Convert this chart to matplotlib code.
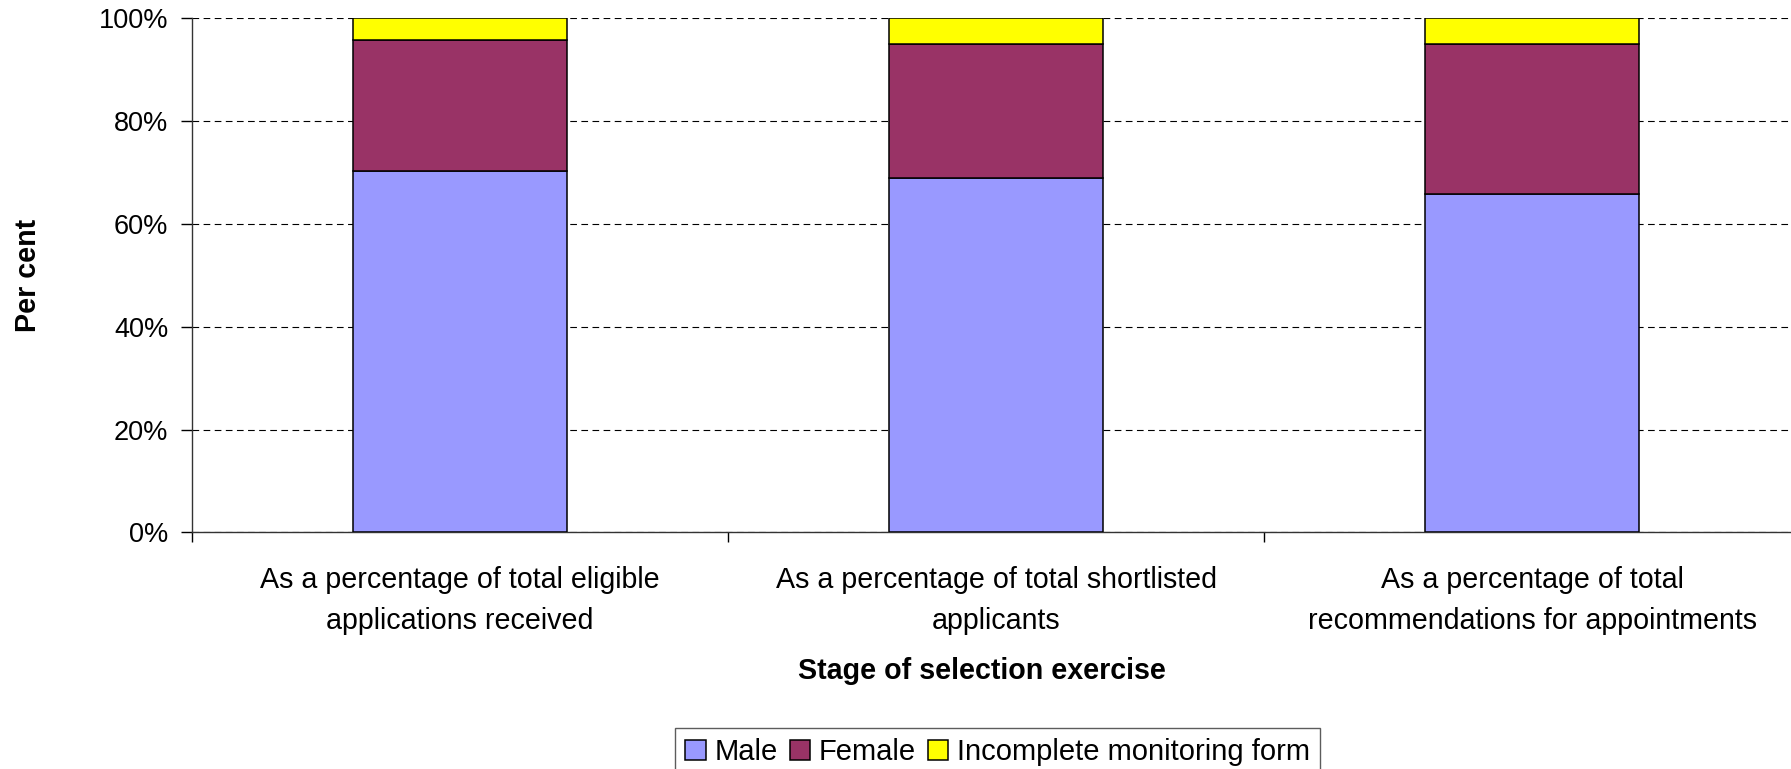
'''
plot.py - stacked percentage bars by stage of selection exercise
'''

import matplotlib.pyplot as plt
from matplotlib.patches import Patch
import numpy as np

plt.rcParams['font.family'] = ['Liberation Sans', 'DejaVu Sans']

# Data
stages = ['As a percentage of total eligible\napplications received',
          'As a percentage of total shortlisted\napplicants',
          'As a percentage of total\nrecommendations for appointments']
male = [70.3, 68.9, 65.8]
female = [25.4, 26.1, 29.2]
incomplete = [4.3, 5.0, 5.0]
series_names = ['Male', 'Female', 'Incomplete monitoring form']
colours = ['#9999FF', '#993366', '#FFFF00']

fig = plt.figure(figsize=(17.91, 7.69), dpi=100)
ax = fig.add_axes([0.1072, 0.3078, 0.898, 0.6684])

x = np.arange(len(stages))
bottom = np.zeros(len(stages))
for vals, col in zip([male, female, incomplete], colours):
    ax.bar(x, vals, 0.4, bottom=bottom, color=col, edgecolor='black',
           linewidth=1.1, zorder=3)
    bottom += np.array(vals)

ax.set_xlim(-0.5, 2.5)
ax.set_ylim(0, 100)

# y axis
ax.set_yticks([0, 20, 40, 60, 80, 100])
ax.set_yticklabels(['0%', '20%', '40%', '60%', '80%', '100%'])
ax.tick_params(axis='y', direction='out', length=8, width=1, pad=9,
               labelsize=19.5)
ax.yaxis.grid(True, color='black', linestyle=(0, (6, 4)), linewidth=0.8,
              zorder=0)

# x axis: ticks on category borders, labels in the middle
ax.set_xticks([-0.5, 0.5, 1.5, 2.5])
ax.set_xticklabels([])
ax.set_xticks(x, minor=True)
ax.set_xticklabels(stages, minor=True, fontsize=20.6, linespacing=1.6)
ax.tick_params(axis='x', which='major', direction='out', length=7, width=1)
ax.tick_params(axis='x', which='minor', length=0, pad=24)

for side in ['top', 'right']:
    ax.spines[side].set_visible(False)
for side in ['left', 'bottom']:
    ax.spines[side].set_color('#333333')
    ax.spines[side].set_linewidth(1)

fig.text(0.0155, 0.6420, 'Per cent', rotation=90, ha='center', va='center',
         fontsize=20.6, fontweight='bold')
fig.text(0.5483, 1 - 671 / 769, 'Stage of selection exercise',
         ha='center', va='center', fontsize=20.6, fontweight='bold')

# Legend
handles = [Patch(facecolor=c, edgecolor='black', linewidth=1.1)
           for c in colours]
leg = fig.legend(handles, series_names, loc='upper center',
                 bbox_to_anchor=(0.557, 1 - 728 / 769), ncol=3,
                 fontsize=21, frameon=True, fancybox=False,
                 handlelength=0.7, handleheight=0.7, handletextpad=0.3,
                 columnspacing=0.4, borderpad=0.35, borderaxespad=0)
leg.get_frame().set_edgecolor('#333333')
leg.get_frame().set_linewidth(1)

plt.savefig('out.png', dpi=100)
